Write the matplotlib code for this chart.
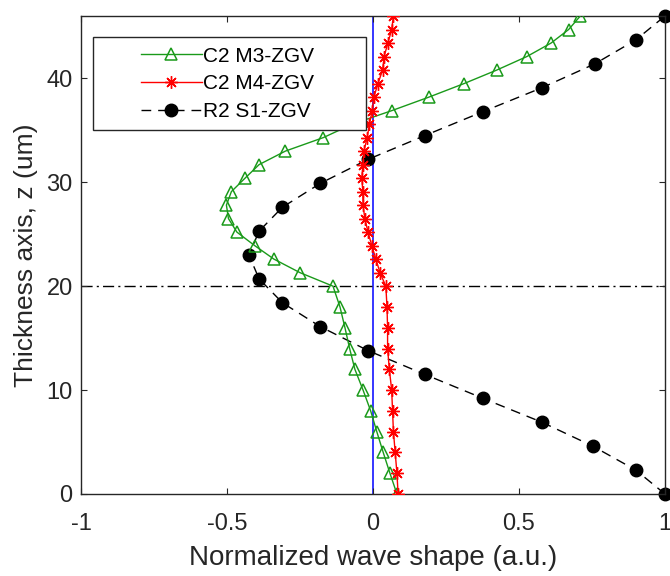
import matplotlib.pyplot as plt
from matplotlib.patches import Rectangle

plt.rcParams['font.family'] = ['Liberation Sans', 'DejaVu Sans']

# thickness positions (um)
z_lower = [0, 2, 4, 6, 8, 10, 12, 14, 16, 18, 20]
z_upper = [21.3, 22.6, 23.9, 25.2, 26.5, 27.8, 29.1, 30.4, 31.7, 33.0,
           34.3, 35.6, 36.9, 38.2, 39.5, 40.8, 42.1, 43.4, 44.7, 46.0]
z_c2 = z_lower + z_upper

m3 = [0.082, 0.058, 0.035, 0.013, -0.008, -0.034, -0.062, -0.08, -0.096, -0.113, -0.137,
      -0.25, -0.339, -0.405, -0.466, -0.495, -0.502, -0.485, -0.438, -0.39, -0.30,
      -0.17, -0.07, 0.065, 0.192, 0.312, 0.424, 0.527, 0.61, 0.67, 0.71]

m4 = [0.086, 0.082, 0.076, 0.07, 0.067, 0.064, 0.056, 0.05, 0.05, 0.048, 0.044,
      0.024, 0.01, -0.004, -0.017, -0.028, -0.034, -0.035, -0.038, -0.035, -0.031,
      -0.02, -0.012, -0.003, 0.003, 0.017, 0.033, 0.038, 0.051, 0.064, 0.07]

z_r2 = [0, 2.3, 4.6, 6.9, 9.2, 11.5, 13.8, 16.1, 18.4, 20.7, 23.0,
        25.3, 27.6, 29.9, 32.2, 34.5, 36.8, 39.1, 41.4, 43.7, 46.0]
s1 = [1.0, 0.90, 0.753, 0.579, 0.377, 0.178, -0.017, -0.18, -0.31, -0.39, -0.425,
      -0.39, -0.31, -0.18, -0.017, 0.178, 0.377, 0.579, 0.76, 0.90, 1.0]

fig = plt.figure(figsize=(6.7, 5.76), dpi=100)
ax = fig.add_axes([0.1209, 0.1424, 0.8716, 0.8298])

ax.axvline(0, color='#0000ff', lw=1.1, zorder=1)
ax.axhline(20, color='black', lw=1.0, ls=(0, (8, 3, 1.5, 3)), zorder=1)

ax.plot(m3, z_c2, color='#1a9a1a', lw=1.0, marker='^', ms=8, mfc='none',
        mew=1.1, label='C2 M3-ZGV', zorder=3)
ax.plot(m4, z_c2, color='#ff0000', lw=1.0, marker=(8, 2, 0), ms=9,
        mew=1.0, label='C2 M4-ZGV', zorder=4)
ax.plot(s1, z_r2, color='black', lw=1.0, ls=(0, (7, 5)), marker='o', ms=9,
        label='R2 S1-ZGV', zorder=2, clip_on=False)

ax.set_xlim(-1, 1)
ax.set_ylim(0, 46)
ax.set_xticks([-1, -0.5, 0, 0.5, 1])
ax.set_xticklabels(['-1', '-0.5', '0', '0.5', '1'])
ax.set_yticks([0, 10, 20, 30, 40])

ax.tick_params(direction='in', length=4, top=True, right=True,
               labelsize=17, labelcolor='#262626', color='#262626')
ax.tick_params(axis='x', pad=14)
ax.tick_params(axis='y', pad=6)
for sp in ax.spines.values():
    sp.set_color('#262626')
    sp.set_linewidth(1.0)

ax.set_xlabel('Normalized wave shape (a.u.)', fontsize=20, color='#262626', labelpad=7)
ax.set_ylabel('Thickness axis, z (um)', fontsize=19, color='#262626', labelpad=6)

# legend box (MATLAB style, wide side margins)
box = Rectangle((0.0205, 0.7615), 0.4675, 0.1945, transform=ax.transAxes,
                facecolor='white', edgecolor='#262626', lw=1.0, zorder=5)
ax.add_patch(box)
leg = ax.legend(loc='upper left', bbox_to_anchor=(0.103, 0.936), fontsize=15,
                handlelength=2.9, handletextpad=0.05, frameon=False,
                borderpad=0, borderaxespad=0, labelspacing=0.42)
leg.set_zorder(6)

fig.savefig('out.png', dpi=100)
